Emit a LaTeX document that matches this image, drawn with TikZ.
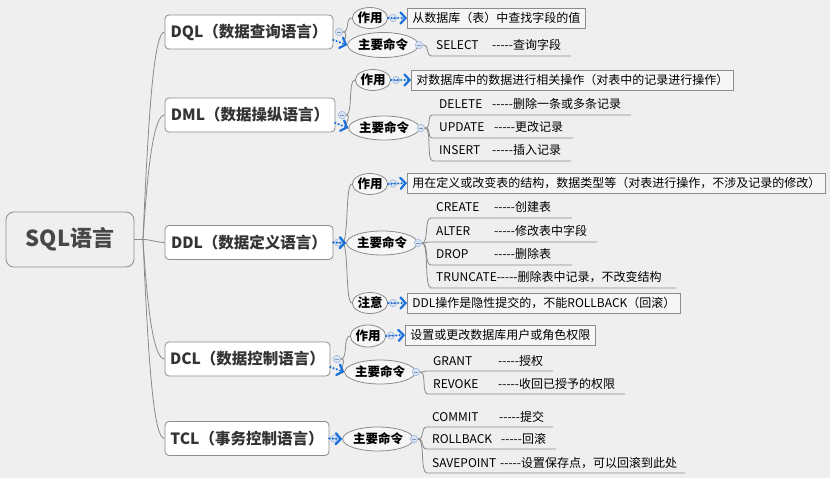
\documentclass[tikz,border=0pt]{standalone}
\usepackage{fontspec}
\setmainfont{Noto Sans CJK SC}
\usetikzlibrary{shapes.geometric,arrows.meta,calc}
\definecolor{bgc}{HTML}{EFEFEF}
\definecolor{txtc}{HTML}{333333}
\definecolor{linec}{HTML}{8A8A8A}
\definecolor{borderc}{HTML}{8C8C8C}
\definecolor{ovalfill}{HTML}{F6F6F6}
\definecolor{bluec}{HTML}{1A70DA}
\definecolor{mkfill}{HTML}{D8E3F3}
\definecolor{mkline}{HTML}{A5BADF}
\newcommand\fivedash{-\kern0pt-\kern0pt-\kern0pt-\kern0pt-}
\begin{document}
\begin{tikzpicture}[x=1pt,y=1pt,
  rootbox/.style={draw=borderc, line width=0.8pt, rounded corners=8pt, fill=bgc, minimum width=128pt, minimum height=55pt, inner sep=0pt, text=txtc!90!white, font=\bfseries\fontsize{22}{26}\selectfont},
  lvone/.style={draw=borderc, line width=0.8pt, rounded corners=4pt, fill=white, minimum height=34pt, inner sep=0pt, text=txtc, font=\bfseries\fontsize{15.5}{18}\selectfont},
  oval/.style={ellipse, draw=borderc, line width=0.8pt, fill=ovalfill, inner sep=0pt, minimum height=22pt, text=black, font=\bfseries\fontsize{12.5}{14}\selectfont},
  desc/.style={draw=borderc, line width=0.8pt, fill=ovalfill, anchor=west, minimum height=20pt, inner xsep=5pt, inner ysep=0pt, text=black, font=\fontsize{12}{14}\selectfont},
  leaf/.style={anchor=base west, inner sep=0pt, text=black, font=\fontsize{12}{14}\selectfont},
  mk/.style={circle, draw=mkline, fill=mkfill, line width=0.6pt, minimum size=7.5pt, inner sep=0pt,
    path picture={\draw[mkline!80!black, line width=0.6pt] ([xshift=-2pt]path picture bounding box.center) -- ([xshift=2pt]path picture bounding box.center);}},
  branch/.style={draw=linec, line width=0.8pt},
  sbend/.style={out=0, in=180, out distance=7pt, in distance=7pt},
  rel/.style={draw=bluec, line width=2.4pt, line cap=round, dash pattern=on 0pt off 3.4pt, -{Straight Barb[length=5pt, width=11pt, line width=2.2pt, line cap=round]}}
]
\fill[bgc] (0,0) rectangle (830,-478);
\useasboundingbox (0,0) rectangle (830,-478);

% ---------- root and level one ----------
\node[rootbox] (root) at (70,-239.5) {SQL语言};
\node[lvone, minimum width=168pt] (dql) at (249,-32) {DQL（数据查询语言）};
\node[lvone, minimum width=170pt] (dml) at (250,-115) {DML（数据操纵语言）};
\node[lvone, minimum width=168pt] (ddl) at (249,-242.5) {DDL（数据定义语言）};
\node[lvone, minimum width=165pt] (dcl) at (247.5,-359) {DCL（数据控制语言）};
\node[lvone, minimum width=164pt] (tcl) at (247,-438.5) {TCL（事务控制语言）};

\coordinate (spine) at (143,-239.5);
\draw[branch] (root.east) -- (spine);
\draw[branch] (spine) .. controls +(6,140) and +(-10,0) .. (dql.west);
\draw[branch] (spine) .. controls +(5,80) and +(-10,0) .. (dml.west);
\draw[branch] (spine) .. controls +(8,0) and +(-8,0) .. (ddl.west);
\draw[branch] (spine) .. controls +(5,-80) and +(-10,0) .. (dcl.west);
\draw[branch] (spine) .. controls +(6,-140) and +(-10,0) .. (tcl.west);

% ---------- level two ovals ----------
\node[oval, minimum width=35pt, minimum height=21pt] (dqlzy) at (370,-18) {作用};
\node[oval, minimum width=60pt, minimum height=25pt] (dqlcmd) at (383,-45) {主要命令};
\node[oval, minimum width=34pt, minimum height=21pt] (dmlzy) at (373,-80) {作用};
\node[oval, minimum width=58pt, minimum height=24pt] (dmlcmd) at (384,-128) {主要命令};
\node[oval, minimum width=35pt, minimum height=21pt] (ddlzy) at (370,-184) {作用};
\node[oval, minimum width=59pt, minimum height=24pt] (ddlcmd) at (382,-243) {主要命令};
\node[oval, minimum width=35pt, minimum height=21pt] (ddlzy2) at (370,-303) {注意};
\node[oval, minimum width=35pt, minimum height=22pt] (dclzy) at (368,-336) {作用};
\node[oval, minimum width=59pt, minimum height=24pt] (dclcmd) at (380,-372) {主要命令};
\node[oval, minimum width=59pt, minimum height=24pt] (tclcmd) at (378,-439) {主要命令};

% level one markers
\node[mk] (dqlm) at (339,-32) {};
\node[mk] (dmlm) at (342,-115) {};
\node[mk] (ddlm) at (338,-242.5) {};
\node[mk] (dclm) at (337,-359) {};
\node[mk] (tclm) at (334,-438.5) {};

\draw[branch] (dqlm.east) to[sbend] (dqlzy.west);
\draw[branch] (dqlm.east) to[sbend] (dqlcmd.west);
\draw[branch] (dmlm.east) to[sbend] (dmlzy.west);
\draw[branch] (dmlm.east) to[sbend] (dmlcmd.west);
\draw[branch] (ddlm.east) to[sbend] (ddlzy.west);
\draw[branch] (ddlm.east) to[sbend] (ddlzy2.west);
\draw[branch] (dclm.east) to[sbend] (dclzy.west);
\draw[branch] (dclm.east) to[sbend] (dclcmd.west);

% ---------- descriptions ----------
\node[desc] (dqld) at (407,-18) {从数据库（表）中查找字段的值};
\node[desc] (dmld) at (411,-80) {对数据库中的数据进行相关操作（对表中的记录进行操作）};
\node[desc] (ddld) at (407,-183) {用在定义或改变表的结构，数据类型等（对表进行操作，不涉及记录的修改）};
\node[desc] (ddln) at (407,-303) {DDL操作是隐性提交的，不能ROLLBACK（回滚）};
\node[desc] (dcld) at (405,-335) {设置或更改数据库用户或角色权限};

\node[mk] (dqlzm) at (393,-18) {};
\node[mk] (dmlzm) at (396,-80) {};
\node[mk] (ddlzm) at (393,-183.5) {};
\node[mk] (ddlnm) at (393,-303) {};
\node[mk] (dclzm) at (391,-335.5) {};

% command markers
\node[mk] (dqlcm) at (419,-45) {};
\node[mk] (dmlcm) at (421,-128) {};
\node[mk] (ddlcm) at (418,-243) {};
\node[mk] (dclcm) at (416,-372) {};
\node[mk] (tclcm) at (414,-439) {};

% ---------- blue relation arrows ----------
\draw[rel] ([yshift=-8pt]dql.east) -- (dqlcmd.west);
\draw[rel] ([yshift=-8pt]dml.east) -- (dmlcmd.west);
\draw[rel] (ddl.east) -- (ddlcmd.west);
\draw[rel] ([yshift=-8pt]dcl.east) -- (dclcmd.west);
\draw[rel] (tcl.east) -- (tclcmd.west);
\draw[rel] (dqlzy.east) -- (dqld.west);
\draw[rel] (dmlzy.east) -- (dmld.west);
\draw[rel] (ddlzy.east) -- (ddld.west);
\draw[rel] (ddlzy2.east) -- (ddln.west);
\draw[rel] (dclzy.east) -- (dcld.west);

% ---------- leaves ----------
% DQL
\coordinate (dqlu1) at (432,-56); \coordinate (dqlu1e) at (571,-56);
\node[leaf] (dqll1) at (436,-50) {\makebox[56pt][l]{SELECT}\fivedash 查询字段};
\draw[branch] (dqlcm.east) to[sbend] (dqlu1) -- (dqlu1e);

% DML
\coordinate (dmlu1) at (433,-115); \coordinate (dmlu1e) at (631,-115);
\coordinate (dmlu2) at (433,-138); \coordinate (dmlu2e) at (573,-138);
\coordinate (dmlu3) at (433,-161); \coordinate (dmlu3e) at (571,-161);
\node[leaf] (dmll1) at (439,-109) {\makebox[53pt][l]{DELETE}\fivedash 删除一条或多条记录};
\node[leaf] (dmll2) at (439,-132) {\makebox[55pt][l]{UPDATE}\fivedash 更改记录};
\node[leaf] (dmll3) at (439,-155) {\makebox[53pt][l]{INSERT}\fivedash 插入记录};
\draw[branch] (dmlcm.east) to[sbend] (dmlu1) -- (dmlu1e);
\draw[branch] (dmlcm.east) to[sbend] (dmlu2) -- (dmlu2e);
\draw[branch] (dmlcm.east) to[sbend] (dmlu3) -- (dmlu3e);

% DDL
\coordinate (ddlu1) at (431,-218); \coordinate (ddlu1e) at (572,-218);
\coordinate (ddlu2) at (431,-242); \coordinate (ddlu2e) at (597,-242);
\coordinate (ddlu3) at (431,-265); \coordinate (ddlu3e) at (572,-265);
\coordinate (ddlu4) at (431,-288); \coordinate (ddlu4e) at (676,-288);
\node[leaf] (ddll1) at (436,-212) {\makebox[58pt][l]{CREATE}\fivedash 创建表};
\node[leaf] (ddll2) at (436,-236) {\makebox[58pt][l]{ALTER}\fivedash 修改表中字段};
\node[leaf] (ddll3) at (436,-259) {\makebox[58pt][l]{DROP}\fivedash 删除表};
\node[leaf] (ddll4) at (436,-282) {TRUNCATE\fivedash 删除表中记录，不改变结构};
\draw[branch] (ddlcm.east) to[sbend] (ddlu1) -- (ddlu1e);
\draw[branch] (ddlcm.east) to[sbend] (ddlu2) -- (ddlu2e);
\draw[branch] (ddlcm.east) to[sbend] (ddlu3) -- (ddlu3e);
\draw[branch] (ddlcm.east) to[sbend] (ddlu4) -- (ddlu4e);

% DCL
\coordinate (dclu1) at (428,-371); \coordinate (dclu1e) at (553,-371);
\coordinate (dclu2) at (428,-394); \coordinate (dclu2e) at (625,-394);
\node[leaf] (dcll1) at (433,-365) {\makebox[65pt][l]{GRANT}\fivedash 授权};
\node[leaf] (dcll2) at (433,-388) {\makebox[65pt][l]{REVOKE}\fivedash 收回已授予的权限};
\draw[branch] (dclcm.east) to[sbend] (dclu1) -- (dclu1e);
\draw[branch] (dclcm.east) to[sbend] (dclu2) -- (dclu2e);

% TCL
\coordinate (tclu1) at (427,-427); \coordinate (tclu1e) at (553,-427);
\coordinate (tclu2) at (427,-449); \coordinate (tclu2e) at (556,-449);
\coordinate (tclu3) at (427,-473); \coordinate (tclu3e) at (685,-473);
\node[leaf] (tcll1) at (432,-421) {\makebox[67pt][l]{COMMIT}\fivedash 提交};
\node[leaf] (tcll2) at (432,-443) {\makebox[69pt][l]{ROLLBACK}\fivedash 回滚};
\node[leaf] (tcll3) at (432,-467) {\makebox[68pt][l]{SAVEPOINT}\fivedash 设置保存点，可以回滚到此处};
\draw[branch] (tclcm.east) to[sbend] (tclu1) -- (tclu1e);
\draw[branch] (tclcm.east) to[sbend] (tclu2) -- (tclu2e);
\draw[branch] (tclcm.east) to[sbend] (tclu3) -- (tclu3e);
\end{tikzpicture}
\end{document}
